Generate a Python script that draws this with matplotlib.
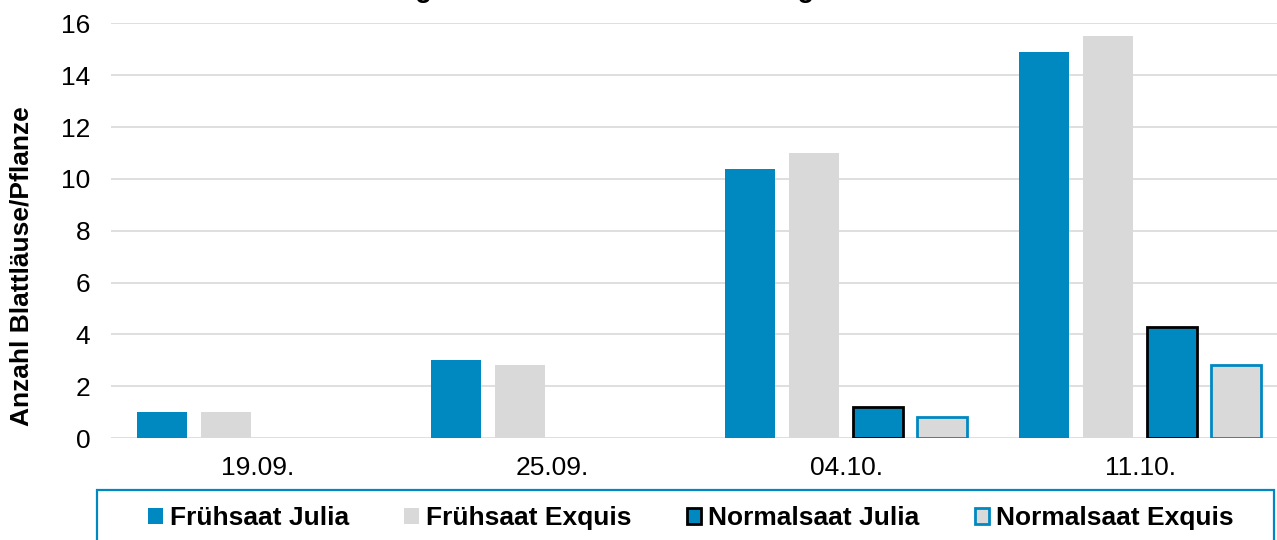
import numpy as np
import matplotlib
matplotlib.use("Agg")
import matplotlib.pyplot as plt
from matplotlib.patches import Patch, Rectangle

plt.rcParams['font.family'] = ['Liberation Sans', 'DejaVu Sans']

# Blattläuse je Pflanze an den Boniturterminen
dates = ["19.09.", "25.09.", "04.10.", "11.10."]
fruehsaat_julia = [1.0, 3.0, 10.4, 14.9]
fruehsaat_exquis = [1.0, 2.8, 11.0, 15.5]
normalsaat_julia = [np.nan, np.nan, 1.2, 4.3]
normalsaat_exquis = [np.nan, np.nan, 0.8, 2.8]
series_names = ["Frühsaat Julia", "Frühsaat Exquis", "Normalsaat Julia", "Normalsaat Exquis"]
y_ticks = [0, 2, 4, 6, 8, 10, 12, 14, 16]

BLUE = '#0088C1'
GREY = '#D9D9D9'
FS = 19

W, H = 1277, 540
fig = plt.figure(figsize=(W / 100, H / 100), dpi=100)

# plot area in pixels (right edge runs slightly past the figure)
left, right, top, bottom = 111, 1287, 23.4, 438
ax = fig.add_axes([left / W, 1 - bottom / H, (right - left) / W, (bottom - top) / H])

x = np.arange(len(dates))
step = 0.2177
width = 0.170
styles = [
    dict(color=BLUE, linewidth=0),
    dict(color=GREY, linewidth=0),
    dict(facecolor=BLUE, edgecolor='black', linewidth=2.0),
    dict(facecolor=GREY, edgecolor=BLUE, linewidth=2.0),
]
data = [fruehsaat_julia, fruehsaat_exquis, normalsaat_julia, normalsaat_exquis]
for i, (vals, st) in enumerate(zip(data, styles)):
    ax.bar(x + (i - 1.5) * step, vals, width, zorder=3, **st)

ax.set_xlim(-0.5, len(dates) - 0.5)
ax.set_ylim(0, 16)
ax.set_yticks(y_ticks)
ax.set_xticks(x)
ax.set_xticklabels(dates)
ax.tick_params(axis='both', length=0, labelsize=FS, colors='black')
ax.tick_params(axis='y', pad=15)
ax.tick_params(axis='x', pad=13)
ax.yaxis.grid(True, color=GREY, linewidth=1.2, zorder=0)
ax.set_axisbelow(True)
for s in ax.spines.values():
    s.set_visible(False)

fig.text(22 / W, 1 - 266 / H, "Anzahl Blattläuse/Pflanze", rotation=90,
         ha='center', va='center', fontsize=FS, fontweight='bold')

# title (sits at the very top edge)
fig.text(272 / W, 1 + 3 / H, "Entwicklung Blattlausbefall in der Wintergerste 2019",
         ha='left', va='baseline', fontsize=19.5, fontweight='bold')

# legend box
frame = Rectangle((97 / W, 1 - 548 / H), 1177 / W, 58 / H, transform=fig.transFigure,
                  facecolor='none', edgecolor=BLUE, linewidth=1.6, clip_on=False)
fig.patches.append(frame)

handles = [
    Patch(facecolor=BLUE, edgecolor=BLUE, linewidth=0, label=series_names[0]),
    Patch(facecolor=GREY, edgecolor=GREY, linewidth=0, label=series_names[1]),
    Patch(facecolor=BLUE, edgecolor='black', linewidth=2.0, label=series_names[2]),
    Patch(facecolor=GREY, edgecolor=BLUE, linewidth=2.0, label=series_names[3]),
]
fig.legend(handles=handles, loc='center', bbox_to_anchor=(691 / W, 1 - 518 / H), ncol=4,
           frameon=False, prop={'size': FS, 'weight': 'bold'},
           handlelength=0.56, handleheight=0.56, handletextpad=0.25, columnspacing=2.1)

fig.savefig("out.png", dpi=100)
